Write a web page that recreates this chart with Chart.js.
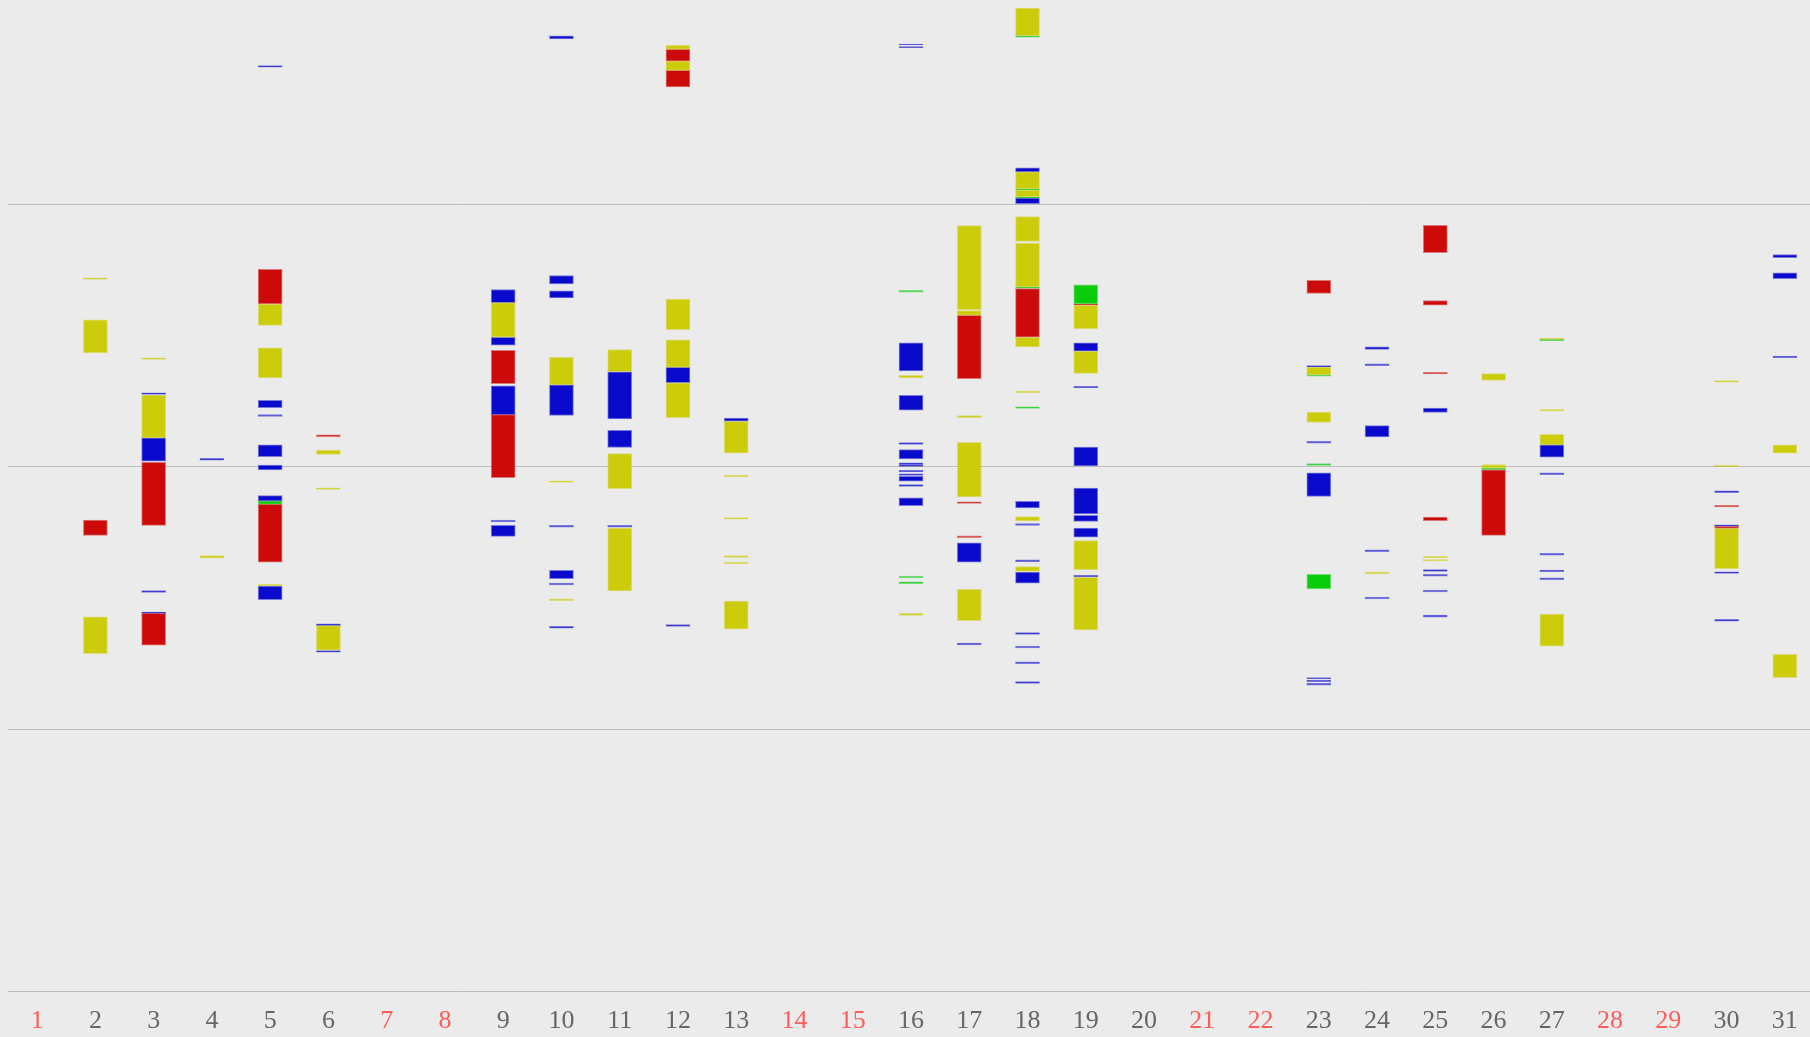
<!DOCTYPE html>
<html>
<head>
<meta charset="utf-8">
<script src="https://cdn.jsdelivr.net/npm/chart.js@4/dist/chart.umd.min.js"></script>
<style>
  html, body { margin: 0; padding: 0; background: #ebebeb; overflow: hidden; }
  /* plot runs a few px past the right edge of the window, as in the original */
  #wrap { width: 1814px; height: 1037px; }
</style>
</head>
<body>
<div id="wrap"><canvas id="chart"></canvas></div>
<script>
// days of the month, weekend days shown in red
const days = Array.from({ length: 31 }, (_, i) => String(i + 1));
const weekendDays = [1, 7, 8, 14, 15, 21, 22, 28, 29];

// [day, start hour, end hour]
const yellow = [
  [2, 16.28, 16.32], [2, 14.60, 15.36], [2, 7.73, 8.57],
  [3, 14.45, 14.49], [3, 12.66, 13.64],
  [4, 9.91, 9.97],
  [5, 15.23, 15.72], [5, 14.03, 14.72], [5, 9.28, 9.31],
  [6, 12.28, 12.38], [6, 11.48, 11.52], [6, 7.81, 8.37],
  [9, 14.96, 15.75],
  [10, 13.87, 14.50], [10, 11.64, 11.68], [10, 8.94, 8.98],
  [11, 14.17, 14.68], [11, 11.50, 12.30], [11, 9.16, 10.60],
  [12, 21.54, 21.63], [12, 21.06, 21.27], [12, 15.13, 15.83], [12, 14.27, 14.90], [12, 13.12, 13.92],
  [13, 12.31, 13.04], [13, 11.77, 11.81], [13, 10.80, 10.84], [13, 9.93, 9.97], [13, 9.78, 9.82], [13, 8.29, 8.93],
  [16, 14.03, 14.09], [16, 8.60, 8.65],
  [17, 15.59, 17.51], [17, 15.46, 15.57], [17, 13.12, 13.17], [17, 11.31, 12.56], [17, 8.48, 9.20],
  [18, 21.85, 22.48], [18, 18.35, 18.74], [18, 18.17, 18.32], [18, 17.15, 17.72], [18, 16.11, 17.11],
  [18, 14.74, 14.96], [18, 13.69, 13.73], [18, 10.76, 10.86], [18, 9.61, 9.72],
  [19, 15.15, 15.69], [19, 14.13, 14.64], [19, 9.65, 10.31], [19, 8.27, 9.47],
  [23, 14.10, 14.28], [23, 13.01, 13.25],
  [24, 9.55, 9.60],
  [25, 9.92, 9.95], [25, 9.85, 9.88],
  [26, 13.97, 14.13], [26, 11.97, 12.05],
  [27, 14.91, 14.94], [27, 13.27, 13.31], [27, 12.50, 12.74], [27, 7.90, 8.63],
  [30, 13.93, 13.97], [30, 12.00, 12.03], [30, 9.67, 10.59],
  [31, 12.31, 12.50], [31, 7.18, 7.71],
];

const red = [
  [2, 10.43, 10.78],
  [3, 10.66, 12.10], [3, 7.92, 8.65],
  [5, 15.72, 16.51], [5, 9.82, 11.14],
  [6, 12.69, 12.73],
  [9, 13.90, 14.66], [9, 11.75, 13.19],
  [12, 21.27, 21.54], [12, 20.68, 21.06],
  [17, 14.01, 15.46], [17, 11.16, 11.20], [17, 10.38, 10.42],
  [18, 14.96, 16.07],
  [19, 15.69, 15.72],
  [23, 15.96, 16.26],
  [25, 16.89, 17.52], [25, 15.69, 15.80], [25, 14.12, 14.16], [25, 10.77, 10.85],
  [26, 10.43, 11.93],
  [30, 11.08, 11.12], [30, 10.59, 10.64],
];

const blue = [
  [3, 13.65, 13.69], [3, 12.13, 12.66], [3, 9.13, 9.17], [3, 8.65, 8.68],
  [4, 12.15, 12.19],
  [5, 21.13, 21.17], [5, 13.35, 13.52], [5, 13.15, 13.19], [5, 12.23, 12.50], [5, 11.93, 12.04], [5, 11.22, 11.34], [5, 8.96, 9.27],
  [6, 8.37, 8.41], [6, 7.76, 7.80],
  [9, 15.75, 16.05], [9, 14.78, 14.96], [9, 13.19, 13.85], [9, 10.74, 10.78], [9, 10.41, 10.66],
  [10, 21.78, 21.85], [10, 16.18, 16.37], [10, 15.86, 16.02], [10, 13.17, 13.87], [10, 10.62, 10.66],
  [10, 9.44, 9.63], [10, 9.30, 9.34], [10, 8.31, 8.35],
  [11, 13.09, 14.17], [11, 12.44, 12.83], [11, 10.62, 10.66],
  [12, 13.92, 14.27], [12, 8.35, 8.39],
  [13, 13.04, 13.11],
  [16, 21.64, 21.66], [16, 21.58, 21.60], [16, 14.19, 14.83], [16, 13.29, 13.63], [16, 12.51, 12.55],
  [16, 12.18, 12.39], [16, 12.05, 12.09], [16, 12.01, 12.04], [16, 11.88, 11.92], [16, 11.80, 11.84],
  [16, 11.67, 11.78], [16, 11.55, 11.59], [16, 11.11, 11.29],
  [17, 9.82, 10.26], [17, 7.93, 7.97],
  [18, 18.74, 18.83], [18, 18.01, 18.14], [18, 11.06, 11.21], [18, 10.66, 10.70], [18, 9.83, 9.87],
  [18, 9.34, 9.59], [18, 8.17, 8.21], [18, 7.86, 7.90], [18, 7.50, 7.54], [18, 7.05, 7.09],
  [19, 14.64, 14.83], [19, 13.80, 13.84], [19, 12.02, 12.45], [19, 10.92, 11.51], [19, 10.75, 10.89],
  [19, 10.39, 10.60], [19, 9.48, 9.52],
  [23, 14.28, 14.31], [23, 12.54, 12.58], [23, 11.32, 11.86], [23, 7.15, 7.18], [23, 7.09, 7.12], [23, 7.01, 7.05],
  [24, 14.68, 14.74], [24, 14.31, 14.35], [24, 12.68, 12.94], [24, 10.06, 10.10], [24, 8.98, 9.02],
  [25, 13.24, 13.34], [25, 9.61, 9.65], [25, 9.50, 9.54], [25, 9.14, 9.18], [25, 8.56, 8.61],
  [27, 12.22, 12.50], [27, 11.82, 11.86], [27, 9.98, 10.02], [27, 9.60, 9.64], [27, 9.42, 9.46],
  [30, 11.41, 11.45], [30, 10.64, 10.67], [30, 9.56, 9.60], [30, 8.47, 8.51],
  [31, 16.78, 16.85], [31, 16.30, 16.43], [31, 14.49, 14.53],
];

const green = [
  [5, 11.14, 11.22],
  [16, 15.99, 16.03], [16, 9.46, 9.50], [16, 9.33, 9.37],
  [18, 21.82, 21.85], [18, 18.32, 18.35], [18, 18.14, 18.17], [18, 16.08, 16.11], [18, 13.33, 13.37],
  [19, 15.72, 16.16],
  [23, 14.07, 14.10], [23, 12.03, 12.07], [23, 9.21, 9.54],
  [26, 11.93, 11.97],
  [27, 14.88, 14.91],
];

const toPoints = rows => rows.map(([d, a, b]) => ({ x: String(d), y: [a, b] }));

function series(label, rows, rgb){
  return {
    label,
    data: toPoints(rows),
    backgroundColor: `rgb(${rgb})`,
    borderColor: `rgba(${rgb},0.5)`,
    borderWidth: 1,
    borderSkipped: false,
    grouped: false,
    barThickness: 24,
  };
}

const gridColor = '#bdbdbd';

new Chart(document.getElementById('chart'), {
  type: 'bar',
  data: {
    labels: days,
    datasets: [
      series('yellow', yellow, '205,204,10'),
      series('red', red, '204,10,10'),
      series('blue', blue, '10,10,204'),
      series('green', green, '10,204,10'),
    ]
  },
  options: {
    responsive: true,
    maintainAspectRatio: false,
    animation: false,
    layout: { padding: { left: 8, right: 0, top: 0, bottom: 0 } },
    plugins: { legend: { display: false }, tooltip: { enabled: false } },
    scales: {
      x: {
        grid: { display: false, drawTicks: true, tickLength: 14 },
        border: { display: false },
        ticks: {
          padding: 0,
          font: { family: 'Liberation Serif', size: 26 },
          color: ctx => weekendDays.includes(ctx.index + 1) ? '#ff5c5c' : '#666666',
        }
      },
      y: {
        min: 0,
        max: 22.667,
        border: { display: false },
        grid: {
          drawTicks: false,
          color: ctx => (ctx.tick && ctx.tick.value % 6 === 0) ? gridColor : 'rgba(0,0,0,0)',
        },
        ticks: { display: false, stepSize: 6 }
      }
    }
  }
});
</script>
</body>
</html>
